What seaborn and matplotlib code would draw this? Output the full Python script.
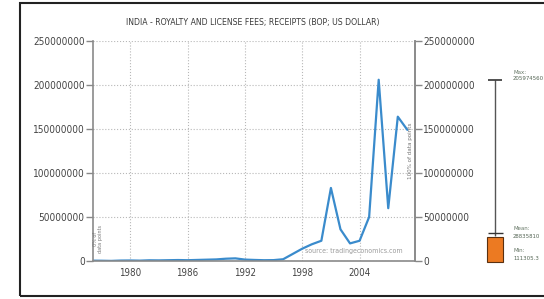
import numpy as np
import pandas as pd
import seaborn as sns
import matplotlib
matplotlib.use("Agg")
import matplotlib.pyplot as plt
from matplotlib.patches import Rectangle

# data
years = list(range(1976, 2010))
receipts = [0.4e6, 0.3e6, 0.111305e6, 0.5e6, 0.6e6, 0.4e6, 0.8e6, 0.7e6, 0.9e6, 1.1e6,
            0.9e6, 1.2e6, 1.5e6, 1.8e6, 2.6e6, 3.0e6, 1.6e6, 1.2e6, 0.9e6, 1.0e6,
            2.0e6, 8.0e6, 14.0e6, 19.0e6, 23.0e6, 83.0e6, 36.0e6, 20.0e6, 23.0e6, 50.0e6,
            205.97456e6, 60.0e6, 164.0e6, 149.0e6]
x_ticks = [1980, 1986, 1992, 1998, 2004]
y_ticks = [0, 50000000, 100000000, 150000000, 200000000, 250000000]
stat_names = ["Max:", "Mean:", "Min:"]
stat_values = [205974560, 28835810, 111305.3]
stat_labels = ["205974560", "28835810", "111305.3"]

title = "INDIA - ROYALTY AND LICENSE FEES; RECEIPTS (BOP; US DOLLAR)"

sns.set_style("white")
plt.rcParams['font.family'] = ['DejaVu Sans']
plt.rcParams['font.stretch'] = 'condensed'

df = pd.DataFrame({"year": years, "value": receipts})

W, H = 544, 299
fig = plt.figure(figsize=(W / 100, H / 100), dpi=100)
ax = fig.add_axes([93 / W, 1 - 261 / H, (415 - 93) / W, (261 - 41) / H])

sns.lineplot(data=df, x="year", y="value", ax=ax, color="#3a8bcc", linewidth=1.6)

ax.set_xlim(1976.1, 2009.8)
ax.set_ylim(0, 250000000)
ax.set_xticks(x_ticks)
ax.set_xticklabels([str(t) for t in x_ticks])
ax.set_yticks(y_ticks)
ax.set_yticklabels([str(t) for t in y_ticks])
ax.set_xlabel("")
ax.set_ylabel("")
ax.grid(True, color="#b8b8b8", linestyle=":", linewidth=0.8)
ax.tick_params(axis="y", length=5, width=1, color="#888888", labelsize=7.2, labelcolor="#444444", pad=1)
ax.tick_params(axis="x", length=0, labelsize=7, labelcolor="#444444", pad=5)
for side in ["left", "right", "bottom"]:
    ax.spines[side].set_color("#8a8a8a")
    ax.spines[side].set_linewidth(1.2)
ax.spines["top"].set_visible(False)

ax2 = ax.twinx()
ax2.set_ylim(ax.get_ylim())
ax2.set_yticks(y_ticks)
ax2.set_yticklabels([str(t) for t in y_ticks])
ax2.tick_params(axis="y", length=5, width=1, color="#888888", labelsize=7.2, labelcolor="#444444", pad=1)
for side in ["left", "top", "bottom"]:
    ax2.spines[side].set_visible(False)
ax2.spines["right"].set_color("#8a8a8a")
ax2.spines["right"].set_linewidth(1.2)

fig.text(253 / W, 1 - 23 / H, title, ha="center", va="center", fontsize=6.2, color="#3a3a3a")

# small annotations inside the plot
ax.text(0.985, 0.5, "100% of data points", transform=ax.transAxes, rotation=90,
        ha="center", va="center", fontsize=4.5, color="#777777")
ax.text(0.015, 0.1, "0% of\ndata points", transform=ax.transAxes, rotation=90,
        ha="center", va="center", fontsize=4, color="#777777", linespacing=1.0)
ax.text(0.962, 0.045, "source: tradingeconomics.com", transform=ax.transAxes,
        ha="right", va="center", fontsize=5, color="#9a9a9a")

# side panel: range marker
axs = fig.add_axes([480 / W, 1 - 261 / H, 30 / W, (261 - 41) / H])
axs.set_xlim(-1, 1)
axs.set_ylim(ax.get_ylim())
axs.axis("off")
vmax, vmean, vmin = stat_values
axs.vlines(0, vmean, vmax, color="#555555", linewidth=1)
axs.hlines(vmax, -0.45, 0.45, color="#333333", linewidth=1.2)
bars = axs.bar(0, vmean - vmin, bottom=vmin - 1500000, width=1.05, color="#ec7a22",
               edgecolor="#5a3010", linewidth=0.8)
for b in bars:
    b.set_clip_on(False)
axs.hlines(vmean + 3000000, -0.5, 0.5, color="#333333", linewidth=1)

label_y = [72, 229, 251]
for name, lab, yy in zip(stat_names, stat_labels, label_y):
    fig.text(513 / W, 1 - yy / H, name, ha="left", va="center", fontsize=4.3, color="#667766")
    fig.text(513 / W, 1 - (yy + 7) / H, lab, ha="left", va="center", fontsize=4.3, color="#556655")

# outer frame of the picture
fig.patches.append(Rectangle((20 / W, 1 - 296 / H), 1.2, 293 / H, transform=fig.transFigure,
                             fill=False, edgecolor="#222222", linewidth=1.5))

fig.savefig("out.png", dpi=100)
